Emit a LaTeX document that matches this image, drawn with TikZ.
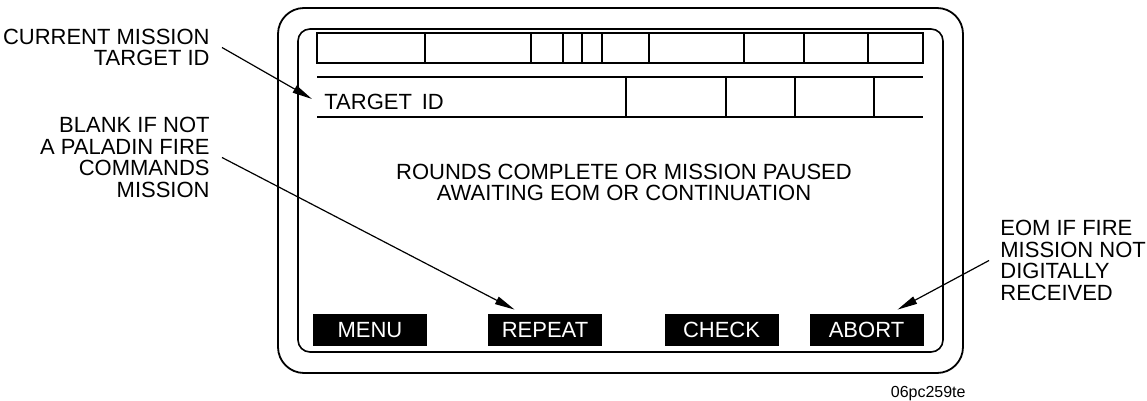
\documentclass[tikz,border=0pt]{standalone}
\usepackage{fontspec}
\setmainfont{Liberation Sans}
\usetikzlibrary{arrows.meta,positioning}
\tikzset{
  bezel/.style={draw, line width=0.9pt, rounded corners=13pt},
  screen/.style={draw, line width=0.8pt, rounded corners=6pt},
  cell/.style={draw, line width=0.75pt},
  softkey/.style={fill=black, text=white, minimum width=57pt, minimum height=16pt, inner sep=0pt, font=\fontsize{11}{10.75}\selectfont},
  callout/.style={inner sep=0pt, font=\fontsize{11}{10.75}\selectfont},
  line/.style={-{Triangle[length=10pt, width=4pt]}, line width=0.6pt}
}
\begin{document}
\begin{tikzpicture}[x=0.5pt, y=-0.5pt]
  \useasboundingbox (0,0) rectangle (1147,401);
  \draw[bezel] (278,8) rectangle (963,373);
  \draw[screen] (298,29) rectangle (943,352);

  \draw[cell] (317,33) rectangle (923,63);
  \foreach \x in {425,531,563,582,602,649,744,804,868}
    \draw[cell] (\x,33) -- (\x,63);
  \draw[cell] (317,77) -- (923,77) (317,117) -- (923,117);
  \foreach \x in {626,726,795,874}
    \draw[cell] (\x,77) -- (\x,117);

  \node[callout, anchor=west] (tgtid) at (324,102) {TARGET\hspace{0.45em}ID};
  \node[callout, align=center] (status) at (624,182.5) {ROUNDS COMPLETE OR MISSION PAUSED\\AWAITING EOM OR CONTINUATION};

  \node[softkey] (menu) at (370,330) {MENU};
  \node[softkey] (repeat) at (545,330) {REPEAT};
  \node[softkey] (check) at (721.5,330) {CHECK};
  \node[softkey] (abort) at (866.5,330) {ABORT};

  \node[callout, align=right, anchor=east] (curlbl) at (210,47.5) {CURRENT MISSION\\TARGET ID};
  \node[callout, align=right, anchor=east] (blanklbl) at (210,157.5) {BLANK IF NOT\\A PALADIN FIRE\\COMMANDS\\MISSION};
  \node[callout, align=left, anchor=west] (eomlbl) at (1000,260.5) {EOM IF FIRE\\MISSION NOT\\DIGITALLY\\RECEIVED};
  \node[inner sep=0pt, font=\fontsize{8}{9}\selectfont, anchor=base east] (figid) at (966,397) {06pc259te};

  \draw[line] ([xshift=6pt]curlbl.east) -- ([xshift=-6pt,yshift=1.5pt]tgtid.west);
  \draw[line] ([xshift=6pt]blanklbl.east) -- ([xshift=13.5pt,yshift=2pt]repeat.north west);
  \draw[line] ([xshift=-5.5pt]eomlbl.west) -- ([xshift=15.5pt,yshift=2pt]abort.north);
\end{tikzpicture}
\end{document}
